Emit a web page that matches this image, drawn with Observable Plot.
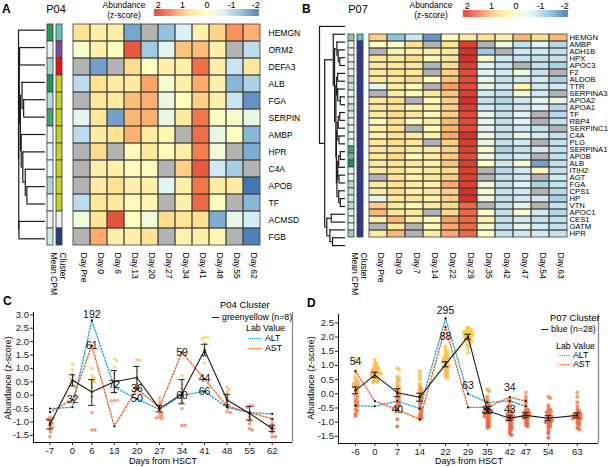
<!DOCTYPE html>
<html>
<head>
<meta charset="utf-8">
<script src="https://cdn.jsdelivr.net/npm/d3@7"></script>
<script src="https://cdn.jsdelivr.net/npm/@observablehq/plot@0.6"></script>
<style>
html,body{margin:0;padding:0;background:#fff;}
#fig{position:relative;width:610px;height:467px;overflow:hidden;background:#fff;font-family:"Liberation Sans",Arial,Helvetica,sans-serif;}
#fig svg{display:block;max-width:none;}
</style>
</head>
<body>
<div id="fig"></div>
<script>
// ================= DATA =================
// ---- Panel A : P04 heatmap ----
const daysA = ["Day.Pre","Day.0","Day.6","Day.13","Day.20","Day.27","Day.34","Day.41","Day.48","Day.55","Day.62"];
const genesA = ["HEMGN","ORM2","DEFA3","ALB","FGA","SERPINA1","AMBP","HPR","C4A","APOB","TF","ACMSD","FGB"];
const zA = [
  [0.6, 0.3, 0.35, -1.55, null, -1.3, -0.7, 0.3, 0.75, 1.3, 1.05],
  [-0.15, 0.3, 0.0, 1.7, -1.2, -0.55, 0.9, 0.95, 0.3, null, -0.95],
  [null, -1.6, null, 0.7, 0.0, 0.3, 0.3, 1.55, 0.3, -0.85, 0.5],
  [-0.95, 0.65, 0.4, 0.4, 1.15, -0.15, 0.3, 1.1, 0.3, -1.4, -1.1],
  [null, 0.5, 0.4, 0.95, 1.05, -0.45, 0.0, 0.8, 0.3, -0.85, -1.75],
  [-0.6, 0.5, -1.6, 1.0, 1.05, -0.45, 0.4, 1.5, 0.0, -0.15, -0.45],
  [-0.95, 0.4, 0.6, 1.05, 0.4, 0.2, null, 1.55, -0.45, 0.0, -1.4],
  [null, 0.7, null, 0.1, 0.5, 0.1, 0.3, 1.45, -0.3, null, -1.5],
  [null, 0.3, 0.3, 0.1, 0.1, null, 0.8, 1.7, -0.8, -1.15, null],
  [null, 0.4, 0.65, 0.3, 0.3, -0.6, 0.3, 1.5, 0.4, 0.4, -2.0],
  [-0.95, 0.5, 0.5, 0.1, 0.2, null, 0.3, 1.6, 0.1, null, -1.4],
  [-0.3, 0.55, 1.75, 0.0, -0.3, 0.7, 0.55, 0.65, -1.5, -0.5, -0.75],
  [null, 1.1, 0.3, 0.3, 0.6, null, 0.25, 0.3, 0.2, null, -1.9]
];
const cpmA = [4.4, 1.15, 2.4, 4.5, 2.2, 4.0, 1.0, 1.0, 1.0, 2.3, 1.0, 1.0, 1.6];
const clusterA = ["turquoise","purple","red","greenyellow","greenyellow","greenyellow","greenyellow","greenyellow","greenyellow","greenyellow","greenyellow","white","blue"];
// dendrogram merges: [node, left, right, height (0 = leaf, 1 = root)]
const treeA = [
  ["a1","APOB","TF",0.69],
  ["a2","C4A","a1",0.75],
  ["a3","HPR","a2",0.84],
  ["a4","AMBP","a3",0.90],
  ["a5","FGA","SERPINA1",0.81],
  ["a6","ALB","a5",0.87],
  ["a7","a6","a4",0.93],
  ["a8","ORM2","DEFA3",0.96],
  ["a9","a8","a7",0.97],
  ["a10","ACMSD","FGB",0.985],
  ["a11","a9","a10",0.99],
  ["a12","HEMGN","a11",1.0]
];

// ---- Panel B : P07 heatmap ----
const daysB = ["Day.Pre","Day.0","Day.7","Day.14","Day.22","Day.29","Day.35","Day.42","Day.47","Day.54","Day.63"];
const genesB = ["HEMGN","AMBP","ADH1B","HPX","APOC3","F2","ALDOB","TTR","SERPINA3","APOA2","APOA1","TF","RBP4","SERPINC1","C4A","PLG","SERPINA1","APOB","ALB","ITIH2","AGT","FGA","CPS1","HP","VTN","APOC1","CES1","GATM","HPR"];
const zB = [
  [0.8, -1.3, -0.8, -1.7, 0.0, 0.4, 0.6, 0.3, 1.0, 0.7, 1.0],
  [0.0, -0.15, 0.6, null, 0.6, 1.9, null, -0.35, -0.9, -0.65, -1.0],
  [null, 0.3, 0.3, 0.4, 0.5, 2.0, -1.2, null, -0.8, -0.8, -0.9],
  [0.5, 0.5, 0.7, 0.1, 0.5, 2.0, -0.15, -0.8, -0.9, -0.9, -0.9],
  [0.5, 0.5, 0.5, null, 0.7, 1.9, -0.65, -0.9, null, -0.9, -1.1],
  [0.5, 0.6, 0.5, null, 0.8, 1.8, -0.65, -0.8, -0.35, -0.9, null],
  [0.5, 0.5, 0.7, 0.1, 0.9, 1.8, -0.5, -0.9, -0.8, -0.8, -1.1],
  [-0.5, 0.4, 0.1, null, 1.2, 1.8, -0.5, -0.8, 0.2, -0.8, -0.8],
  [null, 0.4, 0.1, 0.5, 0.9, 1.9, -0.8, -0.9, -0.15, -0.8, null],
  [0.5, 0.7, null, 0.1, 0.8, 2.0, -0.9, -1.0, -0.8, -0.5, -0.5],
  [0.5, 0.6, 0.3, 0.3, 0.8, 1.9, -0.8, -0.9, -0.8, -0.65, -1.0],
  [0.4, 0.7, 0.5, 0.1, 0.8, 1.8, -0.5, -0.9, -0.65, null, -1.0],
  [0.1, 0.7, 0.0, 0.4, 1.0, 1.8, -0.5, -0.9, -0.65, null, -0.9],
  [0.3, 0.6, null, 0.1, 1.0, 1.8, -0.65, -0.9, -0.8, -0.9, null],
  [0.3, 0.6, 0.5, 0.3, 1.1, 2.0, -0.35, -0.9, -0.5, -0.8, -0.9],
  [0.5, 0.7, 0.5, null, 0.8, 1.9, -0.5, -0.9, -0.8, null, -0.9],
  [0.5, 0.6, 0.5, 0.4, 0.8, 1.9, -0.15, -1.1, -0.9, -0.8, -0.9],
  [0.5, 0.7, 0.1, 0.4, 0.8, 1.8, -0.35, -0.9, -0.8, null, -0.9],
  [0.5, 0.6, 0.5, 0.3, 0.9, 1.9, 0.0, -0.8, -0.15, -1.6, -0.9],
  [0.4, 0.6, 0.3, 0.5, 0.7, 1.9, null, -1.0, -0.8, 0.1, -0.9],
  [null, 0.6, 0.3, 0.5, 0.8, 1.9, null, -0.9, -0.8, null, -0.8],
  [0.4, 0.6, 0.4, 0.3, 1.1, 1.9, -0.35, -0.9, -0.65, -1.1, -0.9],
  [0.4, 0.7, 0.3, 0.5, 0.8, 2.0, -0.15, -0.9, -0.8, null, -1.0],
  [-0.5, 0.5, 0.5, 0.3, 0.8, 2.0, -0.35, -0.9, -0.8, -0.8, -1.1],
  [0.8, 0.5, 0.1, 0.5, 0.7, 1.6, null, -0.9, -0.5, null, -0.9],
  [1.0, 0.5, 0.5, null, 0.7, 1.6, -0.15, -0.9, -0.15, -0.8, -1.0],
  [0.3, 1.0, 0.4, 0.1, 1.2, 1.6, 0.3, -0.9, -0.8, -0.9, -0.9],
  [null, 0.5, null, 0.1, 1.1, 1.6, -0.15, -0.9, -0.5, -0.8, -0.9],
  [0.4, 1.0, null, 0.4, 1.1, 1.6, 0.0, -0.9, -0.8, -0.8, -0.9]
];
const cpmB = [2.8, 1.1, 1.1, 1.2, 1.2, 1.1, 2.1, 1.9, 1.2, 1.3, 2.0, 1.4, 1.2, 1.2, 1.2, 1.2, 4.0, 3.5, 4.6, 1.2, 1.2, 2.3, 1.9, 1.6, 2.1, 1.3, 1.3, 1.2, 2.7];
const clusterB = ["turquoise"].concat(Array(28).fill("blue"));
const treeB = [
  ["b1","APOC3","F2",0.22],
  ["b2","HPX","b1",0.28],
  ["b3","ADH1B","b2",0.33],
  ["b4","ALDOB","TTR",0.30],
  ["b5","APOA2","APOA1",0.20],
  ["b6","SERPINA3","b5",0.30],
  ["b7","b4","b6",0.34],
  ["b8","TF","RBP4",0.22],
  ["b9","b8","SERPINC1",0.28],
  ["b10","C4A","PLG",0.25],
  ["b11","b9","b10",0.32],
  ["b12","SERPINA1","APOB",0.20],
  ["b13","b12","ALB",0.26],
  ["b14","ITIH2","AGT",0.25],
  ["b15","b13","b14",0.30],
  ["b16","CPS1","HP",0.20],
  ["b17","FGA","b16",0.26],
  ["b18","b15","b17",0.33],
  ["b19","b11","b18",0.35],
  ["b20","b7","b19",0.37],
  ["b21","b3","b20",0.42],
  ["b22","AMBP","b21",0.47],
  ["b23","VTN","APOC1",0.55],
  ["b24","GATM","HPR",0.50],
  ["b25","CES1","b24",0.60],
  ["b26","b23","b25",0.72],
  ["b27","b22","b26",0.80],
  ["b28","HEMGN","b27",1.0]
];

// ---- Panel C : P04 greenyellow cluster ----
const timesC = [-7, 0, 6, 13, 20, 27, 34, 41, 48, 55, 62];
const meanC = [-1.08, 0.56, 0.12, 0.5, 0.66, -0.5, 0.05, 1.68, -0.18, -0.68, -1.24];
const loC   = [-1.26, 0.35, -0.38, 0.1, 0.25, -0.62, -0.32, 1.47, -0.36, -0.93, -1.36];
const hiC   = [-0.92, 0.76, 0.58, 0.92, 1.07, -0.38, 0.58, 1.9, 0.03, -0.42, -1.12];
const altC  = [-0.5, -0.45, 2.79, 0.3, -0.14, -0.53, 0.0, 0.14, -0.45, -0.65, -0.7];
const astC  = [-0.63, -0.17, 1.85, -1.16, 0.24, -0.45, 1.6, 0.6, -0.4, -0.65, -0.88];
const altLabC = [null, null, 192, 72, 50, null, 60, 66, null, null, null];
const astLabC = [null, 32, 61, null, 36, null, 59, 44, null, null, null];
const dotsC = [
  [-0.82, -0.86, -0.9, -1.0, -1.05, -1.12, -1.2, -1.28, -1.38, -1.55],
  [1.15, 0.95, 0.78, 0.68, 0.6, 0.52, 0.45, 0.36, 0.3],
  [1.0, 0.72, 0.65, 0.58, 0.52, 0.45, 0.3, -0.05, -0.65, -1.3, -1.3],
  [1.35, 1.3, 1.05, 0.8, 0.55, 0.35, 0.1, -0.2, -0.2, -0.22],
  [1.33, 1.3, 0.9, 0.6, 0.42, 0.35, 0.3, 0.2, 0.12],
  [-0.1, -0.26, -0.4, -0.57, -0.65, -0.7, -0.76, -0.82, -0.85, -0.88],
  [0.73, 0.42, 0.25, 0.1, 0.0, -0.1, -0.26, -0.5, -1.13, -1.13],
  [2.16, 2.16, 2.1, 1.95, 1.9, 1.75, 1.65, 1.55, 1.2],
  [0.3, 0.22, 0.12, 0.0, -0.12, -0.25, -0.4, -0.5, -0.62, -0.65],
  [-0.38, -0.4, -0.45, -0.7, -0.82, -0.95, -1.07, -1.25, -1.3],
  [-0.92, -1.05, -1.15, -1.2, -1.25, -1.3, -1.4, -1.55, -1.55]
];

// ---- Panel D : P07 blue cluster ----
const timesD = [-6, 0, 7, 14, 22, 29, 35, 42, 47, 54, 63];
const meanD = [0.12, 0.66, 0.04, -0.12, 1.04, 2.02, -0.6, -0.86, -0.76, -0.86, -0.76];
const loD   = [0.0, 0.58, -0.1, -0.26, 0.95, 1.93, -0.68, -0.94, -0.85, -0.95, -0.85];
const hiD   = [0.24, 0.76, 0.18, 0.02, 1.13, 2.1, -0.52, -0.78, -0.67, -0.77, -0.67];
const altD  = [-0.42, -0.44, -0.26, -0.52, 2.66, 0.0, -0.3, -0.25, -0.44, null, null];
const astD  = [0.8, -0.26, -0.56, -0.9, 2.36, -0.48, -0.48, -0.12, -0.26, null, null];
const altLabD = [null, null, null, null, 295, 63, null, 43, null, null, null];
const astLabD = [54, null, 40, null, 88, null, 35, 34, null, null, null];
const dotsD = [
  [1.2, 1.1, 0.75, 0.6, 0.5, 0.45, 0.4, 0.38, 0.35, 0.3, 0.28, 0.25, 0.2, 0.15, 0.1, 0.05, -0.05, -0.1, -0.2, -0.25, -0.3, -0.35, -0.4, -0.45, -0.55, -0.6, -0.7, -0.78],
  [1.2, 1.1, 1.05, 1.0, 0.95, 0.92, 0.9, 0.88, 0.85, 0.82, 0.8, 0.78, 0.75, 0.72, 0.7, 0.68, 0.65, 0.62, 0.6, 0.58, 0.55, 0.52, 0.5, 0.45, 0.42, 0.4, 0.7, 0.75],
  [0.9, 0.85, 0.6, 0.55, 0.5, 0.45, 0.4, 0.3, 0.25, 0.2, 0.15, 0.1, 0.05, 0.0, -0.05, -0.1, -0.15, -0.2, -0.25, -0.3, -0.35, -0.4, -0.45, -0.5, -0.6, -0.9, -1.15],
  [0.8, 0.7, 0.6, 0.5, 0.35, 0.25, 0.2, 0.15, 0.1, 0.05, 0.0, -0.05, -0.1, -0.15, -0.2, -0.25, -0.3, -0.35, -0.45, -0.5, -0.55, -0.6, -0.7, -0.75, -0.8, -0.85, -0.9],
  [1.65, 1.55, 1.5, 1.45, 1.4, 1.35, 1.3, 1.28, 1.25, 1.22, 1.2, 1.18, 1.15, 1.12, 1.1, 1.05, 1.0, 0.98, 0.95, 0.9, 0.85, 0.8, 0.75, 0.7, 0.65, 0.6, 0.55],
  [2.35, 2.3, 2.28, 2.25, 2.22, 2.2, 2.18, 2.15, 2.12, 2.1, 2.08, 2.05, 2.02, 2.0, 1.98, 1.95, 1.92, 1.9, 1.88, 1.85, 1.8, 1.75, 1.7, 1.6, 1.45, 2.18, 2.12, 2.05],
  [0.15, 0.1, -0.1, -0.2, -0.3, -0.35, -0.4, -0.45, -0.5, -0.55, -0.6, -0.65, -0.7, -0.75, -0.8, -0.85, -0.9, -0.95, -1.0, -1.05, -1.1, -1.15, -1.2, -0.6, -0.7, -0.5, -0.8],
  [-0.2, -0.3, -0.4, -0.5, -0.55, -0.6, -0.65, -0.7, -0.75, -0.8, -0.82, -0.85, -0.88, -0.9, -0.95, -1.0, -1.05, -1.1, -1.15, -1.2, -1.25, -1.3, -1.4, -1.45, -0.78, -0.92, -0.7],
  [0.05, -0.1, -0.2, -0.3, -0.4, -0.5, -0.55, -0.6, -0.65, -0.7, -0.72, -0.75, -0.78, -0.8, -0.85, -0.9, -0.95, -1.0, -1.05, -1.1, -1.15, -0.62, -0.68, -0.82],
  [-0.1, -0.15, -0.4, -0.5, -0.55, -0.6, -0.65, -0.7, -0.75, -0.8, -0.85, -0.88, -0.9, -0.95, -1.0, -1.05, -1.1, -1.15, -1.2, -1.3, -1.4, -1.55, -0.78, -0.92, -1.0, -0.62],
  [0.05, -0.1, -0.3, -0.45, -0.55, -0.6, -0.65, -0.7, -0.72, -0.75, -0.78, -0.8, -0.82, -0.85, -0.88, -0.9, -0.95, -1.0, -1.05, -1.1, -1.2, -1.25, -0.68, -0.74, -0.86]
];

// ================= STYLE CONSTANTS =================
const FONT = '"Liberation Sans", Arial, Helvetica, sans-serif';
const zStops = [-2, -4/3, -2/3, 0, 2/3, 4/3, 2];
const zColors = ["#4575b4","#91bfdb","#e0f3f8","#ffffbf","#fee090","#fc8d59","#d73027"];
const NA_COLOR = "#b3b3b3";
const GRID = "#3d3d3d";
const clusterColors = {turquoise:"#62c3c2", purple:"#7a4b9f", red:"#e5141c", greenyellow:"#c3d31f", white:"#edf3f6", blue:"#2c3b92"};
const cpmColor = d3.scaleLinear().domain([1, 2.4, 4.6]).range(["#eef7f7","#a6d9cd","#1c9151"]).clamp(true);
const ALT_COLOR = "#2ba7dc", AST_COLOR = "#e8662d";

// ================= HELPERS =================
const fig = document.getElementById("fig");
function place(node, x, y, w, h, clip) {
  const d = document.createElement("div");
  d.style.position = "absolute"; d.style.left = x + "px"; d.style.top = y + "px";
  if (w != null) d.style.width = w + "px";
  if (h != null) d.style.height = h + "px";
  if (clip) d.style.overflow = "hidden";
  d.appendChild(node); fig.appendChild(d); return d;
}
function txt(s, x, y, o = {}) {
  const {size = 9, anchor = "start", weight = 400, rotate = 0, color = "#000"} = o;
  const d = document.createElement("div");
  const tx = anchor === "start" ? "0" : anchor === "middle" ? "-50%" : "-100%";
  d.textContent = s;
  d.style.cssText = `position:absolute;left:${x}px;top:${y}px;font-family:${FONT};font-size:${size}px;font-weight:${weight};color:${color};white-space:nowrap;line-height:1;transform:translate(${tx},-50%)${rotate ? ` rotate(${rotate}deg)` : ""};transform-origin:center;`;
  fig.appendChild(d);
}
function key(x, y, w, style) {
  const d = document.createElement("div");
  d.style.cssText = `position:absolute;left:${x}px;top:${y}px;width:${w}px;height:0;border-top:${style};`;
  fig.appendChild(d);
}
const baseStyle = {background: "transparent", overflow: "visible", fontFamily: FONT, color: "#000"};

function heatPlot(genes, days, z, W, H, mr, mb, dxLab, dyLab, rowFont) {
  const cells = genes.flatMap((g, i) => days.map((d, j) => ({g, d, z: z[i][j]})));
  return Plot.plot({
    width: W + mr, height: H + mb, marginLeft: 0, marginTop: 0, marginRight: mr, marginBottom: mb,
    x: {domain: days, padding: 0, axis: null},
    y: {domain: genes, padding: 0, axis: null},
    color: {type: "linear", domain: zStops, range: zColors, clamp: true},
    style: {...baseStyle, fontSize: "8.5px"},
    marks: [
      Plot.cell(cells, {x: "d", y: "g", fill: NA_COLOR}),
      Plot.cell(cells.filter(c => c.z != null), {x: "d", y: "g", fill: "z"}),
      Plot.cell(cells, {x: "d", y: "g", fill: "none", stroke: GRID, strokeWidth: 0.8}),
      Plot.text(genes, {y: d => d, text: d => d, frameAnchor: "right", textAnchor: "start", dx: dxLab, fontSize: rowFont, fill: "#000"}),
      Plot.text(days, {x: d => d, text: d => d, frameAnchor: "bottom", textAnchor: "start", rotate: 90, dy: dyLab, dx: -1, fill: "#000"})
    ]
  });
}
function annotPlot(genes, cpm, clusters, W, H, mb, dyLab) {
  const cols = ["Mean CPM", "Cluster"];
  const cells = genes.flatMap((g, i) => [
    {c: "Mean CPM", g, col: cpmColor(cpm[i])},
    {c: "Cluster", g, col: clusterColors[clusters[i]]}
  ]);
  return Plot.plot({
    width: W, height: H + mb, margin: 0, marginBottom: mb,
    x: {domain: cols, paddingInner: 0.38, paddingOuter: 0, axis: null},
    y: {domain: genes, padding: 0, axis: null},
    color: {type: "identity"},
    style: {...baseStyle, fontSize: "8.5px"},
    marks: [
      Plot.cell(cells, {x: "c", y: "g", fill: "col", stroke: GRID, strokeWidth: 0.8}),
      Plot.text(cols, {x: d => d, text: d => d, frameAnchor: "bottom", textAnchor: "start", rotate: 90, dy: dyLab, fill: "#000"})
    ]
  });
}
function dendroPlot(tree, leaves, W, H) {
  const pos = new Map(leaves.map((g, i) => [g, {y: i + 0.5, h: 0}]));
  const hs = [], vs = [];
  for (const [id, a, b, h] of tree) {
    const A = pos.get(a), B = pos.get(b);
    hs.push({y: A.y, x1: A.h, x2: h}, {y: B.y, x1: B.h, x2: h});
    vs.push({x: h, y1: A.y, y2: B.y});
    pos.set(id, {y: (A.y + B.y) / 2, h});
  }
  return Plot.plot({
    width: W, height: H, margin: 0,
    x: {domain: [1, 0], range: [0, W], axis: null},
    y: {domain: [0, leaves.length], range: [0, H], axis: null},
    style: baseStyle,
    marks: [
      Plot.ruleY(hs, {y: "y", x1: "x1", x2: "x2", stroke: "#1a1a1a", strokeWidth: 1.2}),
      Plot.ruleX(vs, {x: "x", y1: "y1", y2: "y2", stroke: "#1a1a1a", strokeWidth: 1.2})
    ]
  });
}
function zLegend(W) {
  const strips = d3.range(-2.15, 2.15, 0.02);
  return Plot.plot({
    width: W, height: 18, marginTop: 11, marginBottom: 0, marginLeft: 0, marginRight: 0,
    x: {domain: [2.15, -2.15], range: [0, W], axis: "top", ticks: [2, 1, 0, -1, -2], tickSize: 0, tickPadding: 1.5, tickFormat: d => String(d), label: null},
    y: {axis: null},
    color: {type: "linear", domain: zStops, range: zColors, clamp: true},
    style: {...baseStyle, fontSize: "9px"},
    marks: [Plot.rect(strips, {x1: d => d, x2: d => d + 0.025, fill: d => d})]
  });
}
function swarm(groups, times, pxX, pxY, r, sep) {
  const out = [];
  groups.forEach((vals, i) => {
    const placed = [];
    [...vals].sort((a, b) => b - a).forEach(v => {
      const y = v * pxY;
      let off = 0;
      for (let k = 0; k < 80; k++) {
        const c = k === 0 ? 0 : (k % 2 ? 1 : -1) * Math.ceil(k / 2) * r * 0.45;
        if (placed.every(p => Math.hypot(p.x - c, p.y - y) >= sep * r)) { off = c; break; }
      }
      placed.push({x: off, y});
      out.push({t: times[i] + off / pxX, v});
    });
  });
  return out;
}
function trendPlot(cfg) {
  const {times, mean, lo, hi, alt, ast, altLab, astLab, dots, xDomain, yDomain, yTicks, W, H, ml, mr, mt, mb, r, sep, opacity, nudge} = cfg;
  const pxX = (W - ml - mr) / (xDomain[1] - xDomain[0]);
  const pxY = (H - mt - mb) / (yDomain[1] - yDomain[0]);
  const sw = swarm(dots, times, pxX, pxY, r, sep);
  const stats = times.map((t, i) => ({t, m: mean[i], lo: lo[i], hi: hi[i]}));
  const altS = times.map((t, i) => ({t, v: alt[i]}));
  const astS = times.map((t, i) => ({t, v: ast[i]}));
  const cap = 3.2 / pxX;
  const labs = [];
  times.forEach((t, i) => {
    if (altLab[i] != null) labs.push({t, v: alt[i], s: String(altLab[i]), dy: (nudge.ALT[t] || 0)});
    if (astLab[i] != null) labs.push({t, v: ast[i], s: String(astLab[i]), dy: (nudge.AST[t] || 0)});
  });
  const dys = [...new Set(labs.map(l => l.dy))];
  return Plot.plot({
    width: W, height: H, marginLeft: ml, marginRight: mr, marginTop: mt, marginBottom: mb,
    x: {domain: xDomain, ticks: times, tickFormat: d => String(d), tickSize: 3, tickPadding: 2, label: null},
    y: {domain: yDomain, ticks: yTicks, tickFormat: d => d.toFixed(1), tickSize: 3, tickPadding: 1.5, label: null},
    color: {type: "linear", domain: [-1.5, -0.2, 0.4, 2.2], range: ["#e4502c", "#ec7a43", "#f6b64a", "#f8c83c"], clamp: true},
    style: {...baseStyle, fontSize: "9.5px", color: "#222"},
    marks: [
      Plot.dot(sw, {x: "t", y: "v", r, fill: "v", fillOpacity: opacity, stroke: "none"}),
      Plot.line(altS, {x: "t", y: "v", stroke: ALT_COLOR, strokeWidth: 1.4, strokeDasharray: "1.4,1.8"}),
      Plot.line(astS, {x: "t", y: "v", stroke: AST_COLOR, strokeWidth: 1.4, strokeDasharray: "1.4,1.8"}),
      Plot.dot(altS, {x: "t", y: "v", r: 1.1, fill: "#111"}),
      Plot.dot(astS, {x: "t", y: "v", r: 1.1, fill: "#111"}),
      Plot.ruleX(stats, {x: "t", y1: "lo", y2: "hi", stroke: "#222", strokeWidth: 1}),
      Plot.ruleY(stats, {y: "lo", x1: d => d.t - cap, x2: d => d.t + cap, stroke: "#222", strokeWidth: 1}),
      Plot.ruleY(stats, {y: "hi", x1: d => d.t - cap, x2: d => d.t + cap, stroke: "#222", strokeWidth: 1}),
      Plot.line(stats, {x: "t", y: "m", stroke: "#1a1a1a", strokeWidth: 1.1}),
      Plot.dot(stats, {x: "t", y: "m", r: 1.1, fill: "#111"}),
      ...dys.map(dy => Plot.text(labs.filter(l => l.dy === dy), {x: "t", y: "v", text: "s", dy, fontSize: 10.5, fill: "#111"})),
      Plot.ruleX([xDomain[0]], {stroke: "#111", strokeWidth: 1}),
      Plot.ruleY([yDomain[0]], {stroke: "#111", strokeWidth: 1}),
      Plot.ruleX([xDomain[1]], {stroke: "#8c8c8c", strokeWidth: 1.3})
    ]
  });
}

// ================= PANEL A =================
place(dendroPlot(treeA, genesA, 27, 226), 18, 21);
place(annotPlot(genesA, cpmA, clusterA, 16, 226, 50, 5), 46, 21);
place(heatPlot(genesA, daysA, zA, 196, 226, 50, 50, 4, 5, 8.5), 68, 21, 232, 290, true);
place(zLegend(105), 154, -2);
txt("Abundance", 124, 5, {size: 8.5, anchor: "middle"});
txt("(z-score)", 124, 15, {size: 8.5, anchor: "middle"});
txt("A", 2, 9, {size: 12, weight: 700});
txt("P04", 56, 9, {size: 11, anchor: "middle"});

// ================= PANEL B =================
const bgB = document.createElement("div");
bgB.style.cssText = "position:absolute;left:300px;top:0;width:310px;height:252px;background:#fff;";
fig.appendChild(bgB);
place(dendroPlot(treeB, genesB, 26, 227), 319, 22);
place(annotPlot(genesB, cpmB, clusterB, 15, 227, 48, 3), 348, 22);
place(heatPlot(genesB, daysB, zB, 199, 227, 43, 48, 2, 3, 7.7), 368, 22);
place(zLegend(105), 463, -1);
txt("Abundance", 431, 5, {size: 8.5, anchor: "middle"});
txt("(z-score)", 431, 15, {size: 8.5, anchor: "middle"});
txt("B", 302, 9, {size: 12, weight: 700});
txt("P07", 358, 9, {size: 11, anchor: "middle"});

// ================= PANEL C =================
place(trendPlot({
  times: timesC, mean: meanC, lo: loC, hi: hiC, alt: altC, ast: astC, altLab: altLabC, astLab: astLabC, dots: dotsC,
  xDomain: [-12.1, 68.3], yDomain: [-1.765, 3.086], yTicks: [-1.5, -1, -0.5, 0, 0.5, 1, 1.5, 2, 2.5, 3],
  W: 296, H: 165, ml: 33, mr: 4, mt: 12, mb: 23, r: 1.8, sep: 1.5, opacity: 0.6,
  nudge: {ALT: {6: -6, 13: -3}, AST: {}}
}), 0, 300);
txt("C", 3, 301, {size: 12, weight: 700});
txt("Abundance (z-score)", 8, 378, {size: 9, anchor: "middle", rotate: -90});
txt("Days from HSCT", 163, 461, {size: 9, anchor: "middle"});
txt("P04 Cluster", 220, 305, {size: 9.5});
key(212, 317, 7, "1.2px solid #222");
txt("greenyellow (n=8)", 222, 317, {size: 8.8});
txt("Lab Value", 246, 328, {size: 8.8});
key(248, 338, 13, `1.6px dotted ${ALT_COLOR}`);
txt("ALT", 265, 338, {size: 8.8});
key(248, 348, 13, `1.6px dotted ${AST_COLOR}`);
txt("AST", 265, 348, {size: 8.8});

// ================= PANEL D =================
place(trendPlot({
  times: timesD, mean: meanD, lo: loD, hi: hiD, alt: altD, ast: astD, altLab: altLabD, astLab: astLabD, dots: dotsD,
  xDomain: [-11.3, 69.6], yDomain: [-1.753, 2.797], yTicks: [-1.5, -1, -0.5, 0, 0.5, 1, 1.5, 2, 2.5],
  W: 296, H: 165, ml: 33, mr: 3, mt: 14, mb: 22, r: 2, sep: 1.05, opacity: 0.78,
  nudge: {ALT: {22: -8, 29: -8, 42: 9}, AST: {[-6]: -9, 22: 10, 35: 3, 42: -10}}
}), 305, 300);
txt("D", 307, 303, {size: 12, weight: 700});
txt("Abundance (z-score)", 311, 378, {size: 9, anchor: "middle", rotate: -90});
txt("Days from HSCT", 469, 461, {size: 9, anchor: "middle"});
txt("P07 Cluster", 550, 318, {size: 9.5});
key(541, 329, 7, "1.2px solid #222");
txt("blue (n=28)", 551, 329, {size: 8.8});
txt("Lab Value", 556, 346, {size: 8.8});
key(558, 355, 11, `1.6px dotted ${ALT_COLOR}`);
txt("ALT", 573, 355, {size: 8.8});
key(558, 364, 11, `1.6px dotted ${AST_COLOR}`);
txt("AST", 573, 364, {size: 8.8});
</script>
</body>
</html>
